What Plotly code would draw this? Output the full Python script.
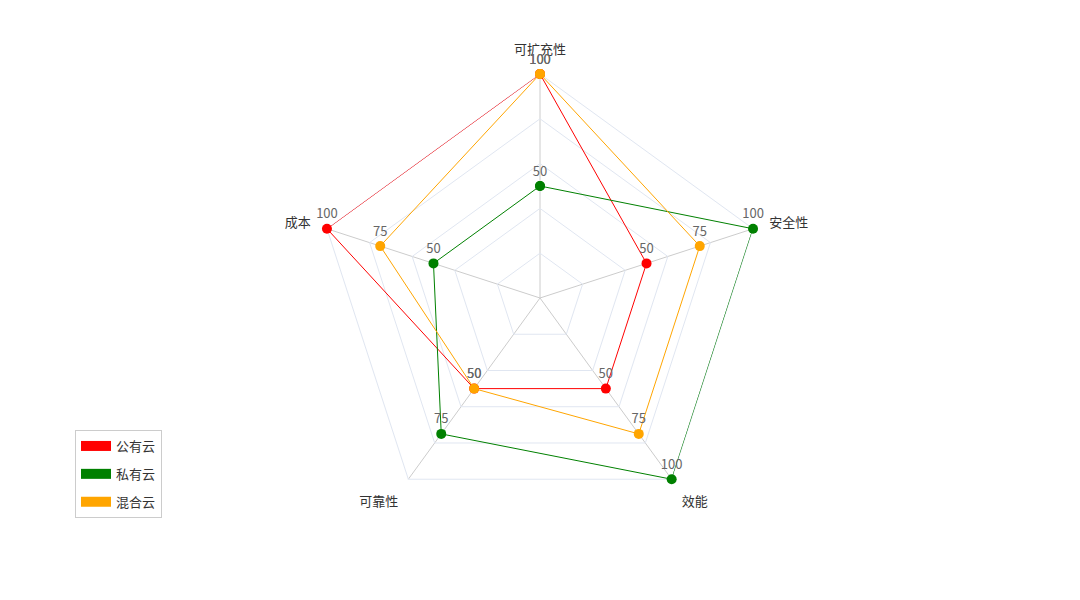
import plotly.graph_objects as go

categories = ["可扩充性", "安全性", "效能", "可靠性", "成本"]
series_names = ["公有云", "私有云", "混合云"]
public_cloud = [100, 50, 50, 50, 100]
private_cloud = [50, 100, 100, 75, 50]
hybrid_cloud = [100, 75, 75, 50, 75]
colors = ["#ff0000", "#008000", "#ffa500"]

all_values = [public_cloud, private_cloud, hybrid_cloud]

fig = go.Figure()
FONT = "Microsoft YaHei, Noto Sans CJK SC, sans-serif"

for name, vals, col in zip(series_names, all_values, colors):
    fig.add_trace(go.Scatterpolar(
        r=vals + [vals[0]],
        theta=categories + [categories[0]],
        mode="lines+markers+text",
        text=[str(v) for v in vals] + [""],
        textposition="top center",
        textfont=dict(family=FONT, size=13, color="#666"),
        line=dict(color=col, width=1),
        marker=dict(color=col, size=10),
        name=name,
        legendgroup=name,
        showlegend=False,
        cliponaxis=False,
    ))

for name, col in zip(series_names, colors):
    fig.add_trace(go.Scatterpolar(
        r=[None], theta=[categories[0]],
        mode="lines",
        line=dict(color=col, width=16),
        name=name,
        legendgroup=name,
        showlegend=True,
    ))

R = 224
cx, cy = 540, 298
W, H = 1080, 600
fig.update_layout(
    width=W, height=H,
    margin=dict(l=0, r=0, t=0, b=0),
    paper_bgcolor="white",
    plot_bgcolor="white",
    font=dict(family=FONT, size=13, color="#333"),
    polar=dict(
        domain=dict(x=[(cx - R) / W, (cx + R) / W], y=[1 - (cy + R) / H, 1 - (cy - R) / H]),
        gridshape="linear",
        bgcolor="white",
        radialaxis=dict(range=[0, 100], tickvals=[20, 40, 60, 80, 100], showticklabels=False,
                        ticks="", showline=False, gridcolor="#e0e6f1", gridwidth=1,
                        layer="below traces"),
        angularaxis=dict(rotation=90, direction="clockwise", categoryorder="array",
                         categoryarray=categories, gridcolor="#cccccc", linecolor="#e0e6f1",
                         ticks="outside", ticklen=14, tickcolor="rgba(0,0,0,0)",
                         layer="below traces",
                         tickfont=dict(size=13, color="#333")),
    ),
    legend=dict(x=75 / W, y=1 - 430 / H, xanchor="left", yanchor="top",
                bordercolor="#cccccc", borderwidth=1, bgcolor="white",
                font=dict(size=13, color="#333"), tracegroupgap=8,
                traceorder="grouped"),
)

fig.write_html("out.html")
